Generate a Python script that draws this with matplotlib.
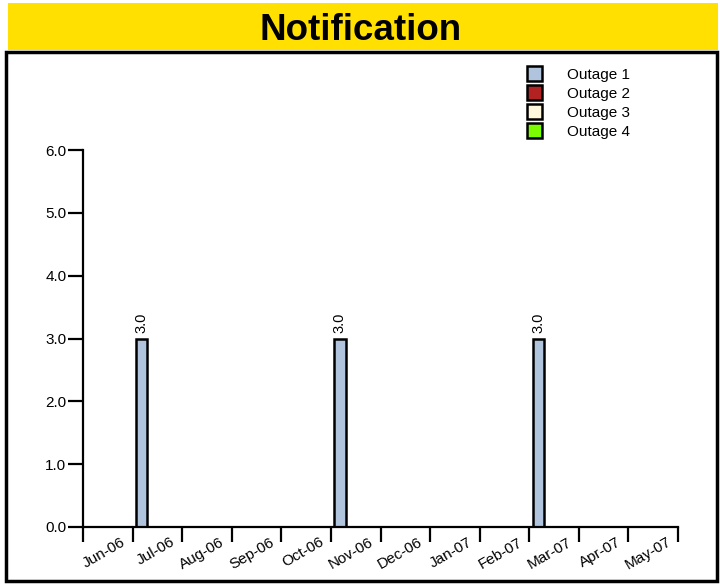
import matplotlib
matplotlib.use("Agg")
import matplotlib.pyplot as plt
from matplotlib.patches import Rectangle
import matplotlib.transforms as mtransforms
import numpy as np

plt.rcParams['font.family'] = ['Liberation Sans', 'DejaVu Sans']

months = ["Jun-06", "Jul-06", "Aug-06", "Sep-06", "Oct-06", "Nov-06",
          "Dec-06", "Jan-07", "Feb-07", "Mar-07", "Apr-07", "May-07"]
series_names = ["Outage 1", "Outage 2", "Outage 3", "Outage 4"]
outage1 = [0, 3, 0, 0, 0, 3, 0, 0, 0, 3, 0, 0]
outage2 = [0, 0, 0, 0, 0, 0, 0, 0, 0, 0, 0, 0]
outage3 = [0, 0, 0, 0, 0, 0, 0, 0, 0, 0, 0, 0]
outage4 = [0, 0, 0, 0, 0, 0, 0, 0, 0, 0, 0, 0]
colors = ["#B0C4DE", "#B22222", "#FFF8DC", "#7CFC00"]
y_ticks = [0.0, 1.0, 2.0, 3.0, 4.0, 5.0, 6.0]

fig = plt.figure(figsize=(7.2, 5.84), dpi=100)

# title bar
fig.patches.append(Rectangle((8/720, 1-50/584), 710/720, 47/584, transform=fig.transFigure,
                             facecolor="#FFE000", edgecolor="none", zorder=-2))
fig.text(361/720, 1-40/584, "Notification", ha="center", va="baseline",
         fontsize=26.5, fontweight="bold", color="black")
# frame
fig.patches.append(Rectangle((6/720, 1-581/584), 711/720, 529/584, transform=fig.transFigure,
                             facecolor="white", edgecolor="black", linewidth=2.5, zorder=-1))

ax = fig.add_axes([83/720, 1-527/584, 595/720, 377/584])
ax.set_facecolor("none")
ax.set_zorder(1)

data = [outage1, outage2, outage3, outage4]
x = np.arange(len(months))
bw = 0.225
start = 0.07
for i, (vals, c, name) in enumerate(zip(data, colors, series_names)):
    pos = x + start + i * bw + bw / 2
    ax.bar(pos, vals, width=bw, color=c, edgecolor="black", linewidth=1.8,
           label=name, zorder=2)
    for p, v in zip(pos, vals):
        if v > 0:
            ax.text(p, v + 0.08, f"{v:.1f}", rotation=90, ha="center", va="bottom",
                    fontsize=10.5, color="black")

ax.set_xlim(0, len(months))
ax.set_ylim(0, 6)
ax.set_yticks(y_ticks)
ax.set_yticklabels([f"{v:.1f}" for v in y_ticks], fontsize=11)
ax.set_xticks(np.arange(len(months) + 1))
ax.set_xticklabels([])
ax.tick_params(axis="both", direction="out", length=11, width=1.6, color="black")
ax.tick_params(axis="y", pad=1)

offset = mtransforms.ScaledTranslation(13/100, -8/100, fig.dpi_scale_trans)
for i, m in enumerate(months):
    ax.text(i + 0.5, 0, m, transform=ax.get_xaxis_transform() + offset, rotation=30,
            ha="right", va="top", rotation_mode="anchor", fontsize=11)

for s in ["top", "right"]:
    ax.spines[s].set_visible(False)
for s in ["left", "bottom"]:
    ax.spines[s].set_linewidth(1.6)
    ax.spines[s].set_zorder(3)

leg = fig.legend(loc="upper left", bbox_to_anchor=(519/720, 1-58/584), frameon=False,
                 fontsize=11, handlelength=1.0, handleheight=1.2, handletextpad=1.65,
                 labelspacing=0.2, borderpad=0)

fig.savefig("out.png", dpi=100)
